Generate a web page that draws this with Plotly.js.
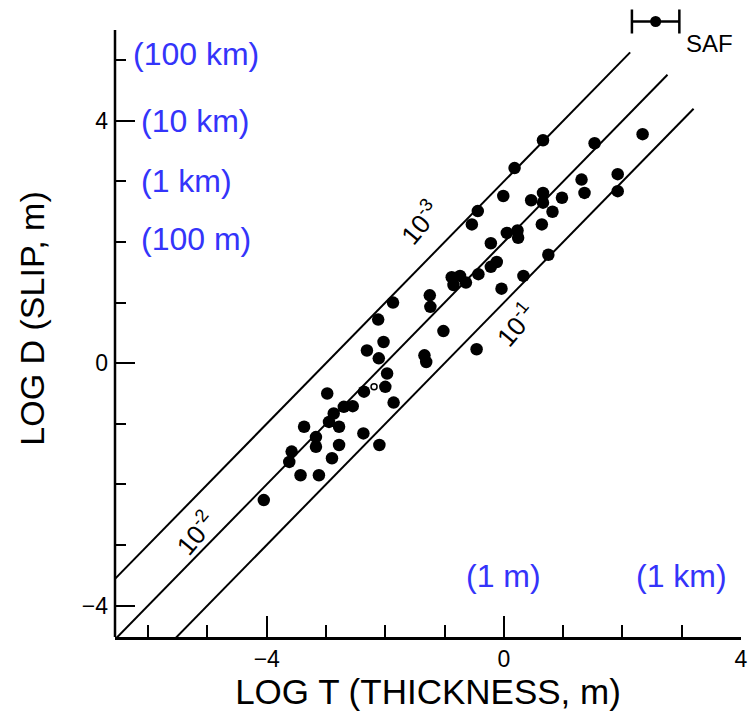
<!DOCTYPE html>
<html>
<head>
<meta charset="utf-8">
<script src="https://cdn.plot.ly/plotly-3.0.1.min.js"></script>
<style>
  html, body { margin: 0; padding: 0; background: #fff; }
  #chart { width: 751px; height: 723px; }
</style>
</head>
<body>
<div id="chart"></div>
<script>
// Fault zone data: log thickness T (m) against log slip D (m)
const logT = [
  -4.05, -3.43, -3.12, -3.62, -3.58, -3.37, -3.17, -3.17, -2.90, -2.78,
  -2.95, -2.78, -2.87, -2.70, -2.55, -2.98, -2.37, -2.10, -1.86, -2.36,
  -2.00, -1.97, -2.31, -2.11, -2.03, -2.12, -1.87, -1.34, -1.31, -1.02,
  -1.25, -1.24, -0.46, -0.88, -0.74, -0.85, -0.64, -0.43, -0.22, -0.12,
  -0.04,  0.33,  0.75, -0.22,  0.05,  0.23,  0.24,  0.64,  0.82,  0.46,
   0.66,  0.66,  0.98, -0.54, -0.44, -0.01,  0.18,  0.66,  1.31,  1.36,
   1.92,  1.92,  1.53,  2.34
];
const logD = [
  -2.26, -1.85, -1.85, -1.63, -1.46, -1.05, -1.22, -1.38, -1.57, -1.35,
  -0.97, -1.05, -0.83, -0.72, -0.71, -0.50, -1.16, -1.35, -0.65, -0.47,
  -0.39, -0.17,  0.21,  0.08,  0.35,  0.72,  1.00,  0.13,  0.02,  0.53,
   1.12,  0.93,  0.23,  1.42,  1.44,  1.29,  1.33,  1.47,  1.59,  1.67,
   1.23,  1.44,  1.79,  1.98,  2.15,  2.19,  2.07,  2.29,  2.50,  2.69,
   2.81,  2.65,  2.73,  2.29,  2.51,  2.76,  3.22,  3.68,  3.03,  2.81,
   3.12,  2.84,  3.63,  3.78
];

// Single open-circle observation
const openT = [-2.19];
const openD = [-0.39];

// San Andreas Fault estimate with thickness range
const safT = [2.56];
const safD = [5.64];
const safTErr = [0.4];

// Reference lines of constant thickness/slip ratio T/D
const ratioExp = [-3, -2, -1];
const ratioLabels = ['10<sup>-3</sup>', '10<sup>-2</sup>', '10<sup>-1</sup>'];
const lineStartT = [-7, -7, -7];
const lineEndT = [2.13, 2.76, 3.20];
const ratioLabelT = [-1.42, -5.21, 0.20];
const ratioLabelD = [2.33, -2.81, 0.64];

// Unit labels for slip (log D) and thickness (log T)
const slipUnitText = ['(100 km)', '(10 km)', '(1 km)', '(100 m)'];
const slipUnitLogD = [5.1, 4, 3, 2.05];
const thickUnitText = ['(1 m)', '(1 km)'];
const thickUnitLogT = [0, 3];
const thickUnitLogD = -3.51;

// Axis extents: the slip axis line stops at its top end, while the
// plotting area runs on up to the page edge so the SAF mark can sit above it
const X_RANGE = [-6.56, 4.0];
const Y_AXIS_END = [-4.52, 5.5];
const Y_RANGE = [-4.52, 5.995];

const FONT = '"Liberation Sans", Arial, sans-serif';
const BLUE = 'rgb(52,52,250)';

const traces = [];

// ratio lines: log D = log T - log(T/D)
ratioExp.forEach((e, i) => {
  const xs = [lineStartT[i], lineEndT[i]];
  traces.push({
    x: xs,
    y: xs.map(v => v - e),
    mode: 'lines',
    line: { color: 'black', width: 2 },
    hoverinfo: 'skip',
    showlegend: false
  });
});

traces.push({
  x: logT, y: logD,
  mode: 'markers',
  marker: { color: 'black', size: 12.5 },
  showlegend: false
});

traces.push({
  x: openT, y: openD,
  mode: 'markers',
  marker: { color: 'white', size: 6, line: { color: 'black', width: 1.5 } },
  showlegend: false
});

traces.push({
  x: safT, y: safD,
  mode: 'markers',
  marker: { color: 'black', size: 11 },
  error_x: { type: 'data', symmetric: true, array: safTErr, color: 'black', thickness: 2.5, width: 12 },
  showlegend: false
});

const annotations = [];

ratioLabels.forEach((t, i) => {
  annotations.push({
    x: ratioLabelT[i], y: ratioLabelD[i], xref: 'x', yref: 'y',
    text: t, showarrow: false, textangle: -50,
    font: { family: FONT, size: 26, color: 'black' }
  });
});

slipUnitText.forEach((t, i) => {
  annotations.push({
    x: -6.16, y: slipUnitLogD[i], xref: 'x', yref: 'y',
    xanchor: 'left', yanchor: 'middle', xshift: i === 0 ? -8 : 0,
    text: t, showarrow: false,
    font: { family: FONT, size: 32, color: BLUE }
  });
});

thickUnitText.forEach((t, i) => {
  annotations.push({
    x: thickUnitLogT[i], y: thickUnitLogD, xref: 'x', yref: 'y',
    xanchor: 'center', yanchor: 'middle',
    text: t, showarrow: false,
    font: { family: FONT, size: 32, color: BLUE }
  });
});

annotations.push({
  x: safT[0], y: safD[0], xref: 'x', yref: 'y',
  xanchor: 'left', yanchor: 'middle', xshift: 28, yshift: -22,
  text: 'SAF', showarrow: false,
  font: { family: FONT, size: 24, color: 'black' }
});

const layout = {
  width: 751, height: 723,
  margin: { l: 115, r: 10, t: 0, b: 86 },
  paper_bgcolor: 'white', plot_bgcolor: 'white',
  showlegend: false,
  xaxis: {
    range: X_RANGE,
    showgrid: false, zeroline: false,
    showline: true, linecolor: 'black', linewidth: 2.5,
    ticks: 'inside', tickmode: 'linear', tick0: 0, dtick: 4,
    ticklen: 21, tickwidth: 2, tickcolor: 'black',
    minor: { ticks: 'inside', dtick: 1, tick0: 0, ticklen: 12, tickwidth: 2, tickcolor: 'black', showgrid: false },
    tickfont: { family: FONT, size: 23, color: 'black' },
    ticklabelstandoff: 0,
    tickformat: 'd',
    title: { text: 'LOG T (THICKNESS, m)', font: { family: FONT, size: 35, color: 'black' }, standoff: 8 },
    automargin: false
  },
  yaxis: {
    range: Y_RANGE,
    showgrid: false, zeroline: false,
    showline: false,
    ticks: 'inside', tickmode: 'linear', tick0: 0, dtick: 4,
    ticklen: 20, tickwidth: 2, tickcolor: 'black',
    minor: { ticks: 'inside', dtick: 1, tick0: 0, ticklen: 11, tickwidth: 2, tickcolor: 'black', showgrid: false },
    tickfont: { family: FONT, size: 23, color: 'black' },
    ticklabelstandoff: 6,
    title: { text: 'LOG D (SLIP, m)', font: { family: FONT, size: 34, color: 'black' }, standoff: 26 },
    automargin: false
  },
  shapes: [{
    type: 'line', layer: 'above',
    xref: 'paper', x0: 0, x1: 0,
    yref: 'y', y0: Y_AXIS_END[0], y1: Y_AXIS_END[1],
    line: { color: 'black', width: 2.5 }
  }],
  annotations: annotations
};

Plotly.newPlot('chart', traces, layout, { displayModeBar: false, staticPlot: true });
</script>
</body>
</html>
